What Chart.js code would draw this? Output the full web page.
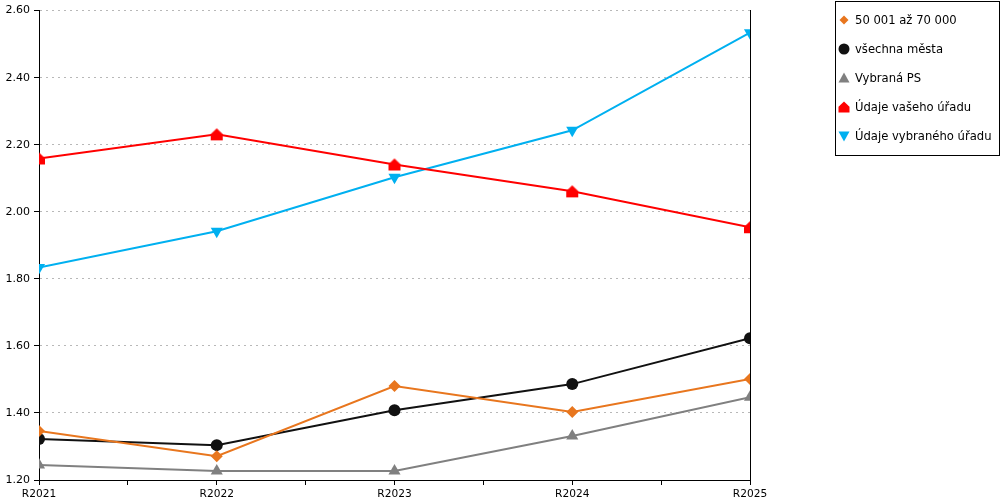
<!DOCTYPE html>
<html><head><meta charset="utf-8">
<script src="https://cdn.jsdelivr.net/npm/chart.js@4/dist/chart.umd.min.js"></script>
<style>
body{margin:0;background:#fff;font-family:"DejaVu Sans",Verdana,sans-serif}
#wrap{position:relative;width:1000px;height:500px}
#legend{position:absolute;left:835px;top:1px;width:163px;height:153px;border:1px solid #000;background:#fff}
.item{position:absolute;left:1px;height:20px;display:flex;align-items:center;font-size:11.6px;color:#000;white-space:nowrap}
.item canvas{margin-right:4px}
</style></head><body>
<div id="wrap"><canvas id="c" width="1000" height="500"></canvas><div id="legend"></div></div>
<script>
const categories = ['R2021','R2022','R2023','R2024','R2025'];
const seriesNames = ['50 001 až 70 000','všechna města','Vybraná PS','Údaje vašeho úřadu','Údaje vybraného úřadu'];
const sMesta5070 = [1.346,1.271,1.480,1.403,1.501];
const sVsechna = [1.322,1.304,1.408,1.486,1.623];
const sVybranaPS = [1.245,1.227,1.227,1.331,1.447];
const sVasUrad = [2.159,2.231,2.141,2.061,1.954];
const sVybranyUrad = [1.834,1.942,2.103,2.243,2.534];
const yTicks = [1.20,1.40,1.60,1.80,2.00,2.20,2.40,2.60];

const colors = ['#E8761E','#111111','#808080','#FF0000','#00B0F0'];
const styles = ['diamond','circle','triangle','house','invtri'];

function drawMarker(ctx, style, cx, cy, r, color){
  ctx.fillStyle = color;
  ctx.beginPath();
  if(style==='diamond'){ctx.moveTo(cx,cy-r);ctx.lineTo(cx+r,cy);ctx.lineTo(cx,cy+r);ctx.lineTo(cx-r,cy);}
  else if(style==='circle'){ctx.arc(cx,cy,r,0,Math.PI*2);}
  else if(style==='triangle'){ctx.moveTo(cx,cy-r);ctx.lineTo(cx+r,cy+r*0.8);ctx.lineTo(cx-r,cy+r*0.8);}
  else if(style==='invtri'){ctx.moveTo(cx,cy+r);ctx.lineTo(cx+r,cy-r*0.8);ctx.lineTo(cx-r,cy-r*0.8);}
  else if(style==='house'){ctx.moveTo(cx,cy-r);ctx.lineTo(cx+r,cy-r*0.05);ctx.lineTo(cx+r,cy+r);ctx.lineTo(cx-r,cy+r);ctx.lineTo(cx-r,cy-r*0.05);}
  ctx.closePath();ctx.fill();
}
function markerCanvas(style,size,r,color){
  const cv=document.createElement('canvas');cv.width=size;cv.height=size;
  drawMarker(cv.getContext('2d'),style,size/2,size/2,r,color);
  return cv;
}
const houseImg = markerCanvas('house',14,6,colors[3]);

const seriesData = [sMesta5070,sVsechna,sVybranaPS,sVasUrad,sVybranyUrad];
const pointCfg = [
  {pointStyle:'rectRot',radius:6,rotation:0},
  {pointStyle:'circle',radius:6,rotation:0},
  {pointStyle:'triangle',radius:7,rotation:0},
  {pointStyle:houseImg,radius:7,rotation:0},
  {pointStyle:'triangle',radius:7,rotation:180}
];
const datasets = seriesData.map((arr,i)=>({
  label:seriesNames[i],
  data:arr.map((v,j)=>({x:j,y:v})),
  borderColor:colors[i],
  backgroundColor:colors[i],
  borderWidth:2,
  pointStyle:pointCfg[i].pointStyle,
  pointRadius:pointCfg[i].radius,
  pointRotation:pointCfg[i].rotation,
  pointBorderWidth:0,
  pointBackgroundColor:colors[i],
  tension:0
}));

const font = {family:'"DejaVu Sans", Verdana, sans-serif', size:11};
new Chart(document.getElementById('c'),{
  type:'line',
  data:{datasets},
  options:{
    responsive:false,animation:false,
    layout:{padding:{top:10,right:250,bottom:0,left:0}},
    plugins:{legend:{display:false},tooltip:{enabled:false}},
    scales:{
      x:{type:'linear',min:0,max:categories.length-1,
        afterBuildTicks(s){s.ticks=[];for(let v=0;v<=categories.length-1+1e-9;v+=0.5)s.ticks.push({value:v});},
        ticks:{autoSkip:false,maxRotation:0,color:'#000',font:{family:font.family,size:10.6},padding:3,
          callback:(v)=>Number.isInteger(v)?categories[v]:''},
        grid:{display:true,drawOnChartArea:false,drawTicks:true,tickLength:5,tickColor:'#000',color:'#000'},
        border:{display:true,color:'#000',width:1},
        afterFit(s){s.height=20;}
      },
      y:{type:'linear',position:'left',min:yTicks[0],max:yTicks[yTicks.length-1],
        afterBuildTicks(s){s.ticks=yTicks.map(v=>({value:v}));},
        ticks:{color:'#000',font,padding:4,callback:(v)=>Number(v).toFixed(2)},
        grid:{color:'#b8b8b8',lineWidth:1,tickLength:5,tickColor:'#000',tickWidth:1},
        border:{display:true,color:'#000',width:1,dash:[2,4]},
        afterFit(s){s.width=39;}
      },
      y2:{type:'linear',position:'right',min:yTicks[0],max:yTicks[yTicks.length-1],
        ticks:{display:false},grid:{display:false,drawTicks:false},
        border:{display:true,color:'#000',width:1},
        afterFit(s){s.width=0;}
      }
    }
  }
});

const leg=document.getElementById('legend');
seriesNames.forEach((name,i)=>{
  const it=document.createElement('div');it.className='item';
  it.style.top=(8+i*29)+'px';
  const r = styles[i]==='diamond'?4.5:5.5;
  it.appendChild(markerCanvas(styles[i],14,r,colors[i]));
  const sp=document.createElement('span');sp.textContent=name;it.appendChild(sp);
  leg.appendChild(it);
});
</script>
</body></html>
